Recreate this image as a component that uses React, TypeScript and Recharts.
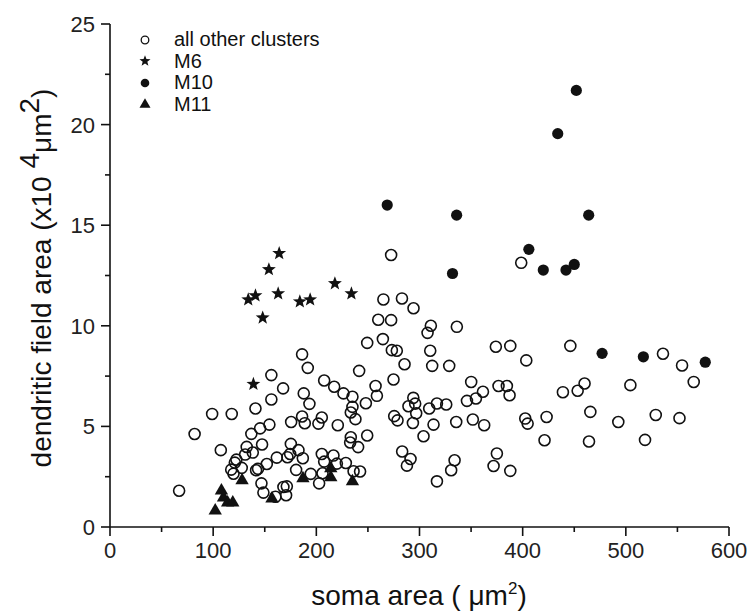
import { ScatterChart, Scatter, XAxis, YAxis, Legend } from 'recharts';

const FONT = '"Liberation Sans", Arial, Helvetica, sans-serif';
const INK = '#111';

const xTicks = [0, 50, 100, 150, 200, 250, 300, 350, 400, 450, 500, 550, 600];
const yTicks = [0, 2.5, 5, 7.5, 10, 12.5, 15, 17.5, 20, 22.5, 25];

const seriesNames = ['all other clusters', 'M6', 'M10', 'M11'];

// soma area (µm²), dendritic field area (x10^4 µm²)
const otherClusters: [number, number][] = [
  [67, 1.8], [82, 4.62], [99, 5.62], [118, 5.62], [107.4, 3.82], [117.5, 2.85], [119.7, 2.65],
  [121, 3.2], [122.5, 3.35], [127.7, 2.94], [131, 3.6], [132.5, 3.98], [137, 4.63], [138.4, 3.7],
  [147.4, 4.1], [145.5, 4.9], [154.5, 5.09], [141, 5.89], [156.4, 6.34], [156.4, 7.55],
  [167.8, 6.89], [141.6, 2.82], [143.5, 2.89], [152, 3.13], [146.8, 2.17], [148.7, 1.71],
  [160.4, 1.5], [161.7, 3.45], [168.1, 1.99], [171.4, 2.02], [170.7, 1.58], [172, 3.47],
  [175.6, 5.22], [175.3, 4.13], [174.6, 3.63], [180.4, 2.84], [182.7, 3.82], [186.9, 3.42],
  [186.2, 8.58], [191.7, 7.91], [187.8, 6.64], [193.3, 6.12], [186.2, 5.49], [188.8, 5.16],
  [194.6, 2.64], [202, 5.14], [205.3, 5.44], [202.7, 2.17], [206, 2.67], [205.3, 3.63],
  [207.6, 3.25], [216.6, 3.55], [219.9, 3.15], [207.6, 7.28], [217.3, 6.97], [220.8, 5.06],
  [226.3, 6.64], [228.6, 3.18], [235, 6.47], [235, 5.97], [233.4, 5.69], [237.9, 5.36],
  [233.4, 4.46], [232.8, 4.2], [240.5, 3.97], [236.1, 2.77], [242.4, 2.76], [241.5, 7.76],
  [248, 6.15], [249.3, 4.55], [249.3, 9.15], [257.4, 7.01], [258.7, 6.52], [260, 10.3],
  [272.5, 10.28], [294.2, 10.87], [264.5, 9.34], [273.2, 8.79], [278, 8.76], [285.5, 8.09],
  [311, 10.0], [307.8, 9.65], [336.2, 9.95], [310.4, 8.76], [312.3, 8.01], [328.8, 8.01],
  [374, 8.96], [388, 9.0], [403.5, 8.28], [446.2, 9.0], [536, 8.61], [554.5, 8.03],
  [565.8, 7.21], [504.4, 7.05], [460, 7.13], [453.3, 6.77], [439, 6.7], [465.6, 5.72],
  [492.7, 5.22], [529, 5.57], [552, 5.41], [518.6, 4.33], [464.3, 4.25], [421.2, 4.31],
  [423.2, 5.47], [402.5, 5.39], [404.8, 5.14], [376.6, 7.01], [384.7, 7.01], [387.3, 6.55],
  [350.1, 7.21], [361.5, 6.72], [354.7, 6.39], [346, 6.27], [362.7, 5.06], [351.7, 5.34],
  [335.6, 5.22], [325.9, 6.09], [316.9, 6.14], [309.4, 5.89], [313.6, 5.09], [294, 6.42],
  [289.3, 6.0], [295.8, 6.13], [296.8, 5.65], [293.6, 5.17], [274.8, 7.33], [275.5, 5.51],
  [278.7, 5.3], [303.9, 4.51], [283.2, 3.75], [291.3, 3.38], [287.8, 3.05], [316.9, 2.27],
  [334, 3.32], [330.7, 2.82], [375, 3.65], [371.8, 3.03], [388, 2.79], [272.5, 13.52],
  [265, 11.31], [283, 11.36], [398.6, 13.13],
];

const m6: [number, number][] = [
  [134, 11.3], [141, 11.5], [148, 10.4], [154, 12.8], [164, 13.6], [163, 11.6],
  [184, 11.2], [194, 11.3], [218, 12.1], [234, 11.6], [139, 7.1],
];

const m10: [number, number][] = [
  [452, 21.7], [434, 19.55], [268.7, 16.0], [336, 15.5], [464, 15.5], [406, 13.8],
  [332, 12.6], [420, 12.77], [442, 12.77], [450, 13.05], [477, 8.63], [517, 8.46], [577, 8.19],
];

const m11: [number, number][] = [
  [102, 0.85], [108, 1.85], [110, 1.5], [114, 1.25], [119, 1.25], [128, 2.35],
  [157, 1.45], [187, 2.45], [214, 2.95], [214, 2.5], [235, 2.3],
];

const toPoints = (arr: [number, number][]) => arr.map(([x, y]) => ({ x, y }));

function starPath(cx: number, cy: number, R: number) {
  const pts: string[] = [];
  for (let i = 0; i < 10; i++) {
    const a = (-90 + i * 36) * Math.PI / 180;
    const r = i % 2 === 0 ? R : R * 0.42;
    pts.push(`${(cx + r * Math.cos(a)).toFixed(2)},${(cy + r * Math.sin(a)).toFixed(2)}`);
  }
  return `M${pts.join('L')}Z`;
}

function triPath(cx: number, cy: number, h: number) {
  return `M${cx},${cy - h * 0.6}L${cx + h * 0.58},${cy + h * 0.4}L${cx - h * 0.58},${cy + h * 0.4}Z`;
}

const OpenDot = (p: any) => <circle cx={p.cx} cy={p.cy} r={5.5} fill="none" stroke={INK} strokeWidth={1.6} />;
const FilledDot = (p: any) => <circle cx={p.cx} cy={p.cy} r={5.6} fill={INK} />;
const StarMark = (p: any) => <path d={starPath(p.cx, p.cy, 7.3)} fill={INK} />;
const TriMark = (p: any) => <path d={triPath(p.cx, p.cy, 11.5)} fill={INK} />;

function XTick({ x, y, payload }: any) {
  const major = payload.value % 100 === 0;
  return (
    <g>
      <line x1={x} y1={y} x2={x} y2={y + (major ? 9 : 5)} stroke={INK} strokeWidth={1.6} />
      {major && (
        <text x={x} y={y + 31} textAnchor="middle" fontSize={22} fontFamily={FONT} fill="#222">
          {payload.value}
        </text>
      )}
    </g>
  );
}

function YTick({ x, y, payload }: any) {
  const major = payload.value % 5 === 0;
  return (
    <g>
      <line x1={x - (major ? 9 : 5)} y1={y} x2={x} y2={y} stroke={INK} strokeWidth={1.6} />
      {major && (
        <text x={x - 15} y={y + 8} textAnchor="end" fontSize={22} fontFamily={FONT} fill="#222">
          {payload.value}
        </text>
      )}
    </g>
  );
}

function XTitle() {
  return (
    <text x={419} y={605} textAnchor="middle" fontSize={28} fontFamily={FONT} fill={INK}>
      soma area ( μm<tspan dy={-11} fontSize={17}>2</tspan><tspan dy={11}>)</tspan>
    </text>
  );
}

function YTitle() {
  return (
    <text x={51} y={278} transform="rotate(-90, 51, 278)" textAnchor="middle" fontSize={28} fontFamily={FONT} fill={INK}>
      dendritic field area (x10 <tspan dy={-12}>4</tspan><tspan dy={12}>μm</tspan>
      <tspan dy={-12}>2</tspan><tspan dy={12}>)</tspan>
    </text>
  );
}

function legendIcon(i: number) {
  if (i === 0) return <circle cx={10} cy={10} r={3.8} fill="none" stroke={INK} strokeWidth={1.3} />;
  if (i === 1) return <path d={starPath(10, 10, 5.8)} fill={INK} />;
  if (i === 2) return <circle cx={10} cy={10} r={4.3} fill={INK} />;
  return <path d={triPath(10, 10, 9.5)} fill={INK} />;
}

function LegendBox() {
  return (
    <div style={{ fontFamily: FONT, fontSize: 20, color: INK }}>
      {seriesNames.map((name, i) => (
        <div key={name} style={{ display: 'flex', alignItems: 'center', height: 21.5 }}>
          <svg width={20} height={20} style={{ overflow: 'visible' }}>{legendIcon(i)}</svg>
          <span style={{ marginLeft: 19, lineHeight: '21.5px', whiteSpace: 'nowrap' }}>{name}</span>
        </div>
      ))}
    </div>
  );
}

export default function App() {
  return (
    <div style={{ position: 'absolute', left: 0, top: 0, background: '#fff' }}>
      <ScatterChart width={749} height={611} margin={{ top: 24, right: 20, left: 0, bottom: 0 }}>
        <XAxis
          type="number"
          dataKey="x"
          domain={[0, 600]}
          ticks={xTicks}
          interval={0}
          height={84}
          tickSize={0}
          tickMargin={0}
          tick={<XTick />}
          axisLine={{ stroke: INK, strokeWidth: 1.6 }}
          label={<XTitle />}
        />
        <YAxis
          type="number"
          dataKey="y"
          domain={[0, 25]}
          ticks={yTicks}
          interval={0}
          width={110}
          tickSize={0}
          tickMargin={0}
          tick={<YTick />}
          axisLine={{ stroke: INK, strokeWidth: 1.6 }}
          label={<YTitle />}
        />
        <Legend
          layout="vertical"
          align="center"
          verticalAlign="middle"
          content={<LegendBox />}
          wrapperStyle={{ left: 135, top: 29, width: 'auto', height: 'auto' }}
        />
        <Scatter name={seriesNames[0]} data={toPoints(otherClusters)} shape={OpenDot} isAnimationActive={false} />
        <Scatter name={seriesNames[1]} data={toPoints(m6)} shape={StarMark} isAnimationActive={false} />
        <Scatter name={seriesNames[2]} data={toPoints(m10)} shape={FilledDot} isAnimationActive={false} />
        <Scatter name={seriesNames[3]} data={toPoints(m11)} shape={TriMark} isAnimationActive={false} />
      </ScatterChart>
    </div>
  );
}
